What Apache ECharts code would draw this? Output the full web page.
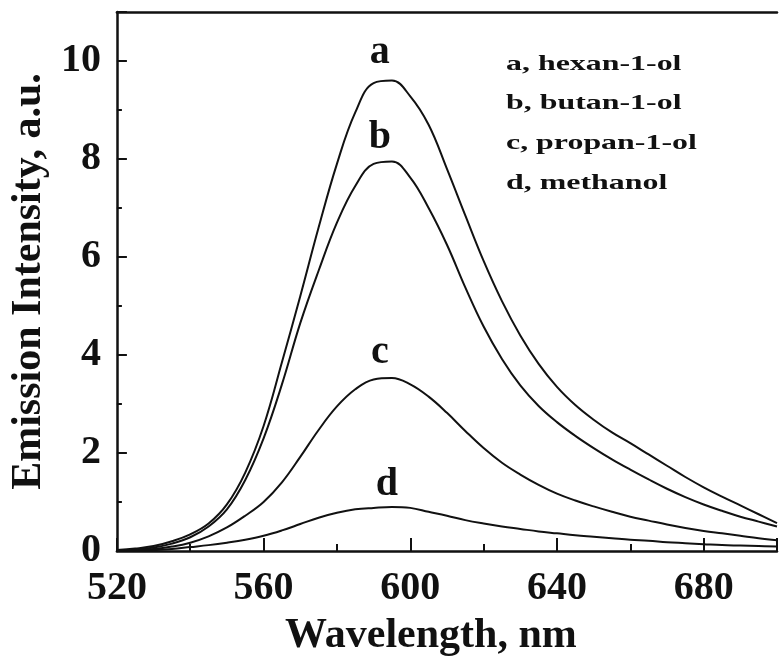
<!DOCTYPE html>
<html>
<head>
<meta charset="utf-8">
<script src="https://cdn.jsdelivr.net/npm/echarts@6/dist/echarts.min.js"></script>
<style>
html,body{margin:0;padding:0;background:#fff;}
#chart{width:780px;height:662px;}
</style>
</head>
<body>
<div id="chart"></div>
<script>
// Wavelength (nm)
const wavelength = [520,525,530,535,540,545,550,555,560,565,570,575,580,585,590,595,600,605,610,615,620,625,630,635,640,645,650,655,660,665,670,675,680,685,690,695,700];
// a, hexan-1-ol
const hexanol = [0.02,0.05,0.10,0.20,0.34,0.56,0.95,1.60,2.55,3.85,5.20,6.60,7.90,8.95,9.55,9.60,9.28,8.70,7.80,6.85,5.92,5.10,4.40,3.82,3.35,2.98,2.68,2.42,2.20,1.97,1.74,1.51,1.30,1.11,0.93,0.75,0.57];
// b, butan-1-ol
const butanol = [0.01,0.03,0.07,0.15,0.28,0.50,0.85,1.45,2.30,3.40,4.65,5.72,6.70,7.45,7.90,7.95,7.62,7.00,6.25,5.38,4.58,3.92,3.38,2.96,2.63,2.35,2.10,1.87,1.66,1.46,1.27,1.10,0.95,0.82,0.70,0.60,0.50];
// c, propan-1-ol
const propanol = [0.01,0.02,0.04,0.09,0.17,0.30,0.48,0.72,1.00,1.40,1.92,2.47,2.95,3.30,3.50,3.53,3.40,3.15,2.82,2.45,2.10,1.80,1.56,1.35,1.17,1.03,0.91,0.80,0.70,0.62,0.54,0.47,0.41,0.36,0.31,0.26,0.22];
// d, methanol
const methanol = [0.00,0.01,0.02,0.04,0.08,0.12,0.17,0.23,0.31,0.42,0.55,0.68,0.78,0.85,0.88,0.90,0.88,0.80,0.72,0.63,0.56,0.50,0.45,0.40,0.36,0.32,0.29,0.26,0.23,0.21,0.18,0.16,0.14,0.12,0.11,0.10,0.09];

const seriesValues = [hexanol, butanol, propanol, methanol];
const curveLetters = ['a','b','c','d'];
const legendLines = ['a, hexan-1-ol','b, butan-1-ol','c, propan-1-ol','d, methanol'];
const xTickLabels = [520,560,600,640,680];
const yTickLabels = [0,2,4,6,8,10];

// label anchor positions (data coords) for curve letters
const letterAnchors = [[591.7,10.16],[591.7,8.43],[591.7,4.04],[593.6,1.35]];

const serif = '"Liberation Serif", "Times New Roman", serif';

const chart = echarts.init(document.getElementById('chart'), null, {renderer:'canvas'});

const series = seriesValues.map((vals, k) => ({
  type:'line',
  data: wavelength.map((w,i)=>[w, vals[i]]),
  showSymbol:false,
  smooth:0.4,
  lineStyle:{color:'#111', width:2},
  markPoint:{
    symbol:'circle', symbolSize:0,
    data:[{coord:letterAnchors[k], value:curveLetters[k]}],
    label:{show:true, position:'inside', formatter:curveLetters[k], color:'#111',
      fontFamily:serif, fontWeight:'bold', fontSize:40}
  },
  z:3
}));

const option = {
  backgroundColor:'#fff',
  animation:false,
  grid:{left:116, right:0, top:12, bottom:111, containLabel:false},
  xAxis:[{
    type:'value', min:520, max:700, interval:40,
    name:'Wavelength, nm', nameLocation:'middle', nameGap:64,
    nameTextStyle:{fontFamily:serif, fontWeight:'bold', fontSize:42, color:'#111', padding:[0,32,0,0]},
    axisLine:{show:true, onZero:false, lineStyle:{color:'#111', width:2.5}},
    axisTick:{show:true, inside:true, length:13, lineStyle:{color:'#111', width:2}},
    minorTick:{show:true, splitNumber:2, length:7, lineStyle:{color:'#111', width:2}},
    splitLine:{show:false},
    axisLabel:{margin:18, color:'#111', fontFamily:serif, fontWeight:'bold', fontSize:40,
      formatter:v => xTickLabels.includes(v) ? String(v) : ''}
  },{
    type:'value', position:'top', min:520, max:700,
    axisLine:{show:true, onZero:false, lineStyle:{color:'#111', width:2.5}},
    axisTick:{show:false}, axisLabel:{show:false}, splitLine:{show:false}
  }],
  yAxis:{
    type:'value', min:0, max:11, interval:2,
    name:'Emission Intensity, a.u.', nameLocation:'middle', nameGap:65, nameRotate:90,
    nameTextStyle:{fontFamily:serif, fontWeight:'bold', fontSize:42, color:'#111'},
    axisLine:{show:true, onZero:false, lineStyle:{color:'#111', width:2.5}},
    axisTick:{show:true, inside:true, length:10, lineStyle:{color:'#111', width:2}},
    minorTick:{show:true, splitNumber:2, length:5, lineStyle:{color:'#111', width:2}},
    splitLine:{show:false},
    axisLabel:{margin:16, color:'#111', fontFamily:serif, fontWeight:'bold', fontSize:40,
      formatter:v => yTickLabels.includes(v) ? String(v) : ''}
  },
  graphic: legendLines.map((t,i)=>({
    type:'text', x:506, y:64 + i*39.7, scaleX:1.45,
    style:{text:t, fill:'#111', font:'bold 22px ' + serif, textAlign:'left', textVerticalAlign:'middle'},
    z:10
  })),
  series: series
};
chart.setOption(option);
</script>
</body>
</html>
